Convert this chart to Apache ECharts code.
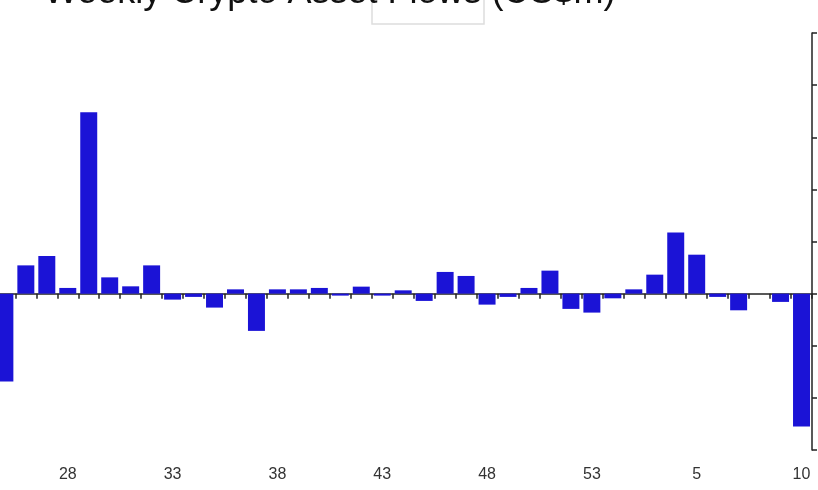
<!DOCTYPE html>
<html>
<head>
<meta charset="utf-8">
<script src="https://cdn.jsdelivr.net/npm/echarts@6/dist/echarts.min.js"></script>
<style>html,body{margin:0;padding:0;background:#fff;overflow:hidden}#c{width:840px;height:490px;margin-left:-16px}</style>
</head>
<body>
<div id="c"></div>
<script>
const titleText = 'Weekly Crypto Asset Flows (US$m)';
const weeks = ['25','26','27','28','29','30','31','32','33','34','35','36','37','38','39','40','41','42','43','44','45','46','47','48','49','50','51','52','53','1','2','3','4','5','6','7','8','9','10'];
const flows = [-1686,542,722,109,3481,312,140,542,-115,-63,-268,82,-715,82,82,109,-38,134,-38,63,-140,416,339,-211,-63,109,441,-293,-364,-90,82,364,1174,747,-63,-320,0,-159,-2548];
const yMin = -3000, yMax = 5000, yStep = 1000;

const OFF = 16; // div is shifted left by this many pixels
const chart = echarts.init(document.getElementById('c'), null, {renderer:'canvas'});
chart.setOption({
  animation: false,
  backgroundColor: '#fff',
  title: {
    text: titleText,
    left: 39 + OFF,
    top: -30,
    textStyle: {fontFamily: 'Liberation Sans, Arial, sans-serif', fontSize: 36, fontWeight: 'normal', color: '#111'}
  },
  graphic: [{
    type: 'rect', z: -1,
    shape: {x: 372 + OFF, y: -20, width: 112, height: 44},
    style: {fill: 'none', stroke: '#dddddd', lineWidth: 1.5}
  }],
  grid: {left: OFF - 5.6, right: 840 - OFF - 812, top: 33, bottom: 40, containLabel: false},
  xAxis: [{
    type: 'category', data: weeks, boundaryGap: true,
    axisLine: {show: true, onZero: true, lineStyle: {color: '#222', width: 1.5}},
    axisTick: {show: true, interval: 0, inside: false, length: 5, lineStyle: {color: '#222', width: 1.5}},
    axisLabel: {show: false}
  }, {
    type: 'category', data: weeks, boundaryGap: true, position: 'bottom',
    axisLine: {show: false}, axisTick: {show: false},
    axisLabel: {
      interval: function (i) { return i % 5 === 3; },
      margin: 17, fontSize: 16, color: '#333',
      fontFamily: 'Liberation Sans, Arial, sans-serif'
    }
  }],
  yAxis: {
    type: 'value', position: 'right', min: yMin, max: yMax, interval: yStep,
    axisLine: {show: true, lineStyle: {color: '#222', width: 1.5}},
    axisTick: {show: true, length: 5, lineStyle: {color: '#222', width: 1.5}},
    axisLabel: {show: false},
    splitLine: {show: false}
  },
  series: [{
    type: 'bar', xAxisIndex: 0, data: flows,
    barCategoryGap: '19%',
    itemStyle: {color: '#1b13d6'}
  }]
});
</script>
</body>
</html>
